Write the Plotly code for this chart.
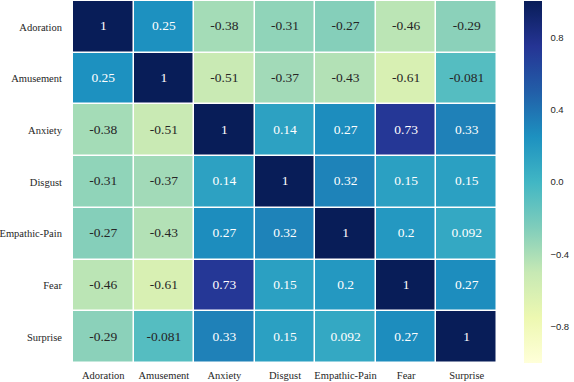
import plotly.graph_objects as go
import plotly.colors as pc

emotions = ['Adoration', 'Amusement', 'Anxiety', 'Disgust', 'Empathic-Pain', 'Fear', 'Surprise']

corr = [
    [1, 0.25, -0.38, -0.31, -0.27, -0.46, -0.29],
    [0.25, 1, -0.51, -0.37, -0.43, -0.61, -0.081],
    [-0.38, -0.51, 1, 0.14, 0.27, 0.73, 0.33],
    [-0.31, -0.37, 0.14, 1, 0.32, 0.15, 0.15],
    [-0.27, -0.43, 0.27, 0.32, 1, 0.2, 0.092],
    [-0.46, -0.61, 0.73, 0.15, 0.2, 1, 0.27],
    [-0.29, -0.081, 0.33, 0.15, 0.092, 0.27, 1],
]

cbar_ticks = [-0.8, -0.4, 0.0, 0.4, 0.8]

fig = go.Figure()

fig.add_trace(go.Heatmap(
    z=corr, x=emotions, y=emotions,
    colorscale=pc.sequential.YlGnBu,
    zmin=-1, zmax=1,
    xgap=1.5, ygap=1.5,
    hoverinfo='skip',
    colorbar=dict(
        x=1.064, xanchor='left', y=0.5, yanchor='middle',
        len=1, lenmode='fraction', thickness=18, outlinewidth=0,
        xpad=0, ypad=0,
        tickvals=cbar_ticks, ticktext=['\u22120.8', '\u22120.4', '0.0', '0.4', '0.8'],
        ticks='outside', ticklen=7, tickcolor='rgba(0,0,0,0)',
        tickfont=dict(family='Liberation Sans', size=9.5, color='#262626'),
    ),
))

# annotations: one text point per cell, light text on the darker (positive) cells
xs, ys, labels, colors = [], [], [], []
for i, row_name in enumerate(emotions):
    for j, col_name in enumerate(emotions):
        v = corr[i][j]
        xs.append(col_name)
        ys.append(row_name)
        labels.append(f'{v:g}')
        colors.append('white' if v > 0 else '#262626')

fig.add_trace(go.Scatter(
    x=xs, y=ys, mode='text', text=labels,
    textfont=dict(family='Liberation Serif', size=13.5, color=colors),
    hoverinfo='skip', showlegend=False,
))

fig.update_layout(
    width=574, height=382,
    margin=dict(l=73, r=77, t=1, b=19, autoexpand=False),
    paper_bgcolor='white', plot_bgcolor='white',
    font=dict(family='Liberation Serif', size=10.5, color='#262626'),
    showlegend=False,
)
fig.update_xaxes(showgrid=False, zeroline=False, showline=False, range=[-0.5, 6.5],
                 ticks='outside', ticklen=2, tickcolor='rgba(0,0,0,0)')
fig.update_yaxes(showgrid=False, zeroline=False, showline=False, range=[6.5, -0.5],
                 ticks='outside', ticklen=8, tickcolor='rgba(0,0,0,0)')

# drop the default page margin so the figure sits at the window's corner
fig.write_html('out.html', config={'displayModeBar': False},
               post_script="document.body.style.margin='0';")
